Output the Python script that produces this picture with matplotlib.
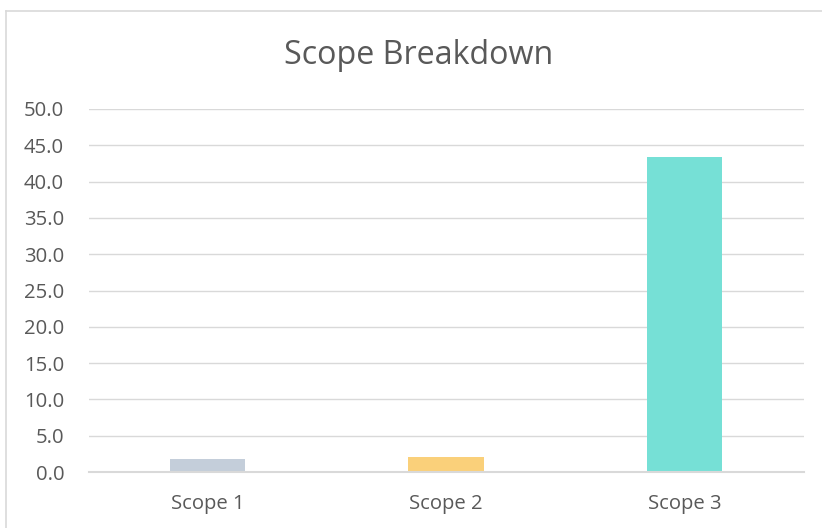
import matplotlib
matplotlib.use("Agg")
import matplotlib.pyplot as plt
from matplotlib.lines import Line2D

categories = ["Scope 1", "Scope 2", "Scope 3"]
values = [1.8, 2.1, 43.4]
colors = ["#C4CEDA", "#FAD07A", "#76E0D6"]
yticks = [0, 5, 10, 15, 20, 25, 30, 35, 40, 45, 50]
title = "Scope Breakdown"

plt.rcParams['font.family'] = ['Open Sans', 'DejaVu Sans']
W, H = 822, 528
fig = plt.figure(figsize=(W/100, H/100), dpi=100)
ax = fig.add_axes([88.5/W, 1-472/H, (803.5-88.5)/W, (472-109)/H])

x = range(len(categories))
ax.bar(x, values, width=0.315, color=colors, zorder=3)
ax.set_xlim(-0.5, len(categories)-0.5)
ax.set_ylim(0, 50)
ax.set_yticks(yticks)
ax.set_yticklabels([f"{v:.1f}" for v in yticks])
ax.set_xticks(list(x))
ax.set_xticklabels(categories)
ax.grid(axis='y', color='#d9d9d9', linewidth=1, zorder=0)
for s in ['left', 'right', 'top']:
    ax.spines[s].set_visible(False)
ax.spines['bottom'].set_color('#d9d9d9')
ax.spines['bottom'].set_linewidth(1.5)
ax.spines['bottom'].set_zorder(4)
ax.tick_params(axis='both', length=0, labelsize=14.6, labelcolor='#595959')
ax.tick_params(axis='y', pad=17.5)
ax.tick_params(axis='x', pad=16)

fig.text(419/W, 1-56/H, title, ha='center', va='center', fontsize=23.2, color='#595959')

fig.add_artist(Line2D([5.5/W, 5.5/W], [0, 1-10.5/H], transform=fig.transFigure, color='#d9d9d9', lw=1.2))
fig.add_artist(Line2D([5.5/W, 1], [1-10.5/H, 1-10.5/H], transform=fig.transFigure, color='#d9d9d9', lw=1.2))

fig.savefig("out.png", dpi=100, facecolor='white')
